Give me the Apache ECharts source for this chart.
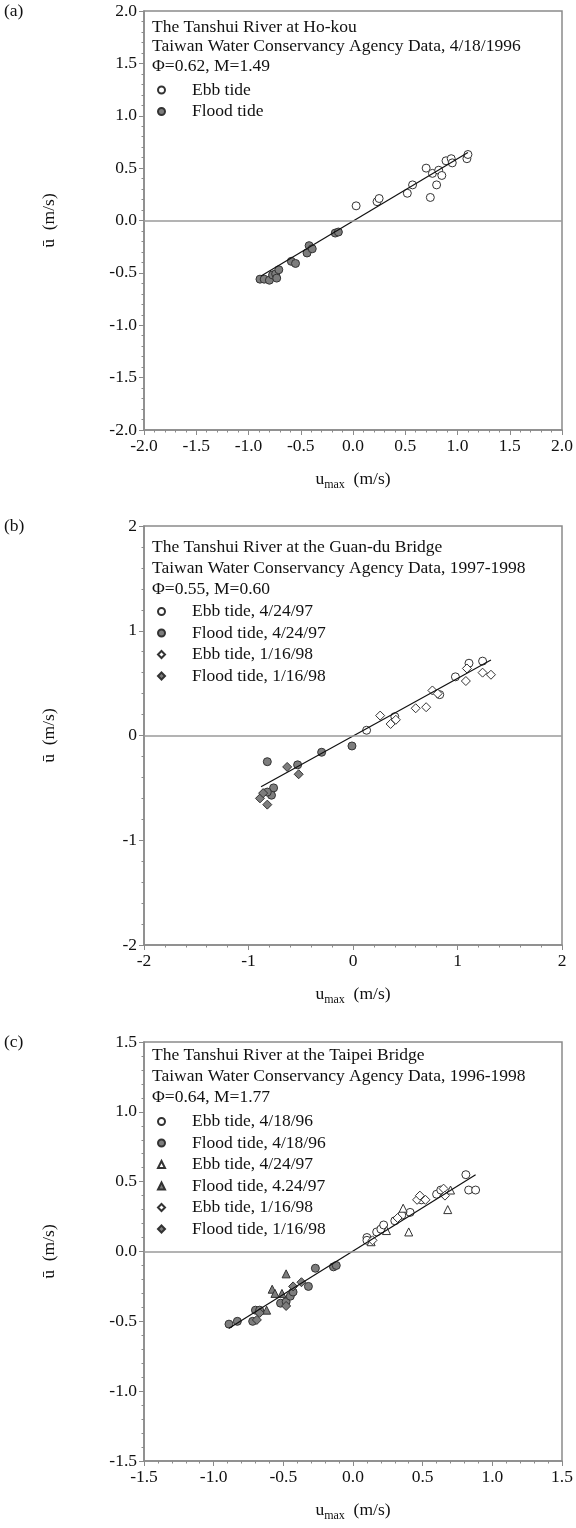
<!DOCTYPE html>
<html>
<head>
<meta charset="utf-8">
<title>Tanshui River - mean vs max velocity</title>
<script src="https://cdn.jsdelivr.net/npm/echarts@6/dist/echarts.min.js"></script>
<style>
  html, body { margin: 0; padding: 0; background: #fff; }
  #main { width: 576px; height: 1528px; }
</style>
</head>
<body>
<div id="main"></div>
<script>
// (a) Ho-kou, 4/18/1996  -- [u_max, u_bar]
var aEbb = [[0.03,0.14],[0.23,0.18],[0.25,0.21],[0.52,0.26],[0.57,0.34],[0.70,0.50],[0.74,0.22],[0.76,0.45],
  [0.80,0.34],[0.82,0.48],[0.85,0.43],[0.89,0.57],[0.94,0.59],[0.95,0.55],[1.09,0.59],[1.10,0.63]];
var aFlood = [[-0.89,-0.56],[-0.85,-0.56],[-0.80,-0.57],[-0.77,-0.52],[-0.74,-0.51],[-0.73,-0.55],[-0.71,-0.47],
  [-0.59,-0.39],[-0.55,-0.41],[-0.44,-0.31],[-0.42,-0.24],[-0.39,-0.27],[-0.17,-0.12],[-0.14,-0.11]];
var aFit = [[-0.88,-0.53],[1.10,0.65]];

// (b) Guan-du Bridge, 1997-1998
var bEbb97 = [[0.13,0.05],[0.40,0.18],[0.83,0.39],[0.98,0.56],[1.11,0.69],[1.24,0.71]];
var bFlood97 = [[-0.82,-0.25],[-0.53,-0.28],[-0.30,-0.16],[-0.01,-0.10],[-0.76,-0.50],[-0.78,-0.57],[-0.82,-0.54]];
var bEbb98 = [[0.26,0.19],[0.36,0.11],[0.41,0.15],[0.60,0.26],[0.70,0.27],[0.76,0.43],[0.81,0.40],
  [1.08,0.52],[1.09,0.64],[1.24,0.60],[1.32,0.58]];
var bFlood98 = [[-0.63,-0.30],[-0.52,-0.37],[-0.89,-0.60],[-0.82,-0.66],[-0.86,-0.55]];
var bFit = [[-0.88,-0.49],[1.32,0.72]];

// (c) Taipei Bridge, 1996-1998
var cEbb96 = [[0.10,0.10],[0.10,0.08],[0.17,0.14],[0.20,0.16],[0.22,0.19],[0.30,0.22],[0.35,0.26],[0.41,0.28],
  [0.49,0.37],[0.60,0.41],[0.63,0.44],[0.81,0.55],[0.83,0.44],[0.88,0.44]];
var cFlood96 = [[-0.89,-0.52],[-0.83,-0.50],[-0.72,-0.50],[-0.70,-0.42],[-0.67,-0.42],[-0.52,-0.37],[-0.48,-0.36],
  [-0.45,-0.32],[-0.43,-0.29],[-0.32,-0.25],[-0.27,-0.12],[-0.14,-0.11],[-0.12,-0.10]];
var cEbb97 = [[0.13,0.07],[0.24,0.15],[0.36,0.31],[0.40,0.14],[0.68,0.30],[0.70,0.44]];
var cFlood97 = [[-0.48,-0.16],[-0.58,-0.27],[-0.56,-0.30],[-0.51,-0.30],[-0.62,-0.42]];
var cEbb98 = [[0.14,0.08],[0.32,0.24],[0.46,0.37],[0.48,0.40],[0.52,0.37],[0.65,0.45],[0.66,0.40]];
var cFlood98 = [[-0.69,-0.49],[-0.67,-0.44],[-0.43,-0.25],[-0.37,-0.22],[-0.48,-0.39]];
var cFit = [[-0.89,-0.55],[0.88,0.55]];

var font = '"Liberation Serif", "DejaVu Serif", serif';
var fs = 17.5;
var ink = '#111';
var axisGray = '#8a8a8a';
var floodGray = '#7d7d7d';

var grids = [], xAxes = [], yAxes = [], series = [], titles = [], legends = [];

function addPanel(i, p) {
  grids.push({ left: 144, top: p.top, width: 418, height: 419, show: true,
    borderColor: axisGray, borderWidth: 1.5, backgroundColor: '#fff', outerBoundsMode: 'none' });

  var fmt = function (v) { return v.toFixed(p.dec); };
  var common = {
    gridIndex: i, type: 'value', min: p.min, max: p.max, interval: p.step,
    axisLine: { show: true, onZero: false, lineStyle: { color: axisGray, width: 1.5 } },
    axisTick: { show: true, length: 5, lineStyle: { color: axisGray } },
    minorTick: { show: true, splitNumber: p.minor, length: 2.5, lineStyle: { color: axisGray } },
    splitLine: { show: false },
    axisLabel: { formatter: fmt, fontFamily: font, fontSize: fs, color: ink, margin: 7 },
    nameLocation: 'middle'
  };
  xAxes.push(Object.assign({}, common, {
    name: '{u|u}{s|max}{u|  (m/s)}', nameGap: 37,
    nameTextStyle: { rich: {
      u: { fontFamily: font, fontSize: fs, color: ink, lineHeight: 24 },
      s: { fontFamily: font, fontSize: 12, color: ink, lineHeight: 11, verticalAlign: 'bottom' }
    } }
  }));
  yAxes.push(Object.assign({}, common, {
    name: 'ū  (m/s)', nameGap: 86,
    nameTextStyle: { fontFamily: font, fontSize: fs, color: ink }
  }));

  titles.push({ text: p.tag, left: 4, top: p.top - 9, padding: 0,
    textStyle: { fontFamily: font, fontSize: fs, fontWeight: 'normal', color: ink } });
  titles.push({ text: p.heading.join('\n'), left: 152, top: p.headTop, padding: 0,
    textStyle: { fontFamily: font, fontSize: fs, fontWeight: 'normal', color: ink, lineHeight: p.lh } });

  var names = [];
  p.groups.forEach(function (g) {
    names.push(g.name);
    series.push({
      type: 'scatter', name: g.name, xAxisIndex: i, yAxisIndex: i, data: g.data,
      symbol: g.symbol, symbolSize: g.size,
      itemStyle: { color: g.fill, borderColor: '#333', borderWidth: 1, opacity: 1 },
      z: 3, silent: true
    });
  });
  legends.push({
    orient: 'vertical', left: 157, top: p.legTop, padding: 0, itemGap: 1.5,
    itemWidth: 7, itemHeight: 7, selectedMode: false, data: names,
    textStyle: { fontFamily: font, fontSize: fs, color: ink, lineHeight: 20, padding: [0, 0, 0, 22] }
  });

  // regression line plus the zero line
  series.push({
    type: 'line', xAxisIndex: i, yAxisIndex: i, data: p.fit, showSymbol: false, silent: true,
    lineStyle: { color: ink, width: 1.2 }, z: 4,
    markLine: { silent: true, symbol: 'none', label: { show: false },
      lineStyle: { color: '#9a9a9a', width: 1.5, type: 'solid' }, data: [{ yAxis: 0 }] }
  });
}

var open = '#fff';

addPanel(0, {
  tag: '(a)', top: 11, min: -2, max: 2, step: 0.5, minor: 5, dec: 1,
  headTop: 17.5, legTop: 80, lh: 19.5,
  heading: ['The Tanshui River at Ho-kou', 'Taiwan Water Conservancy Agency Data, 4/18/1996', 'Φ=0.62, M=1.49'],
  groups: [
    { name: 'Ebb tide', data: aEbb, symbol: 'circle', size: 8, fill: open },
    { name: 'Flood tide', data: aFlood, symbol: 'circle', size: 8, fill: floodGray }
  ],
  fit: aFit
});

addPanel(1, {
  tag: '(b)', top: 526, min: -2, max: 2, step: 1, minor: 5, dec: 0,
  headTop: 537.5, legTop: 601.5, lh: 20.7,
  heading: ['The Tanshui River at the Guan-du Bridge', 'Taiwan Water Conservancy Agency Data, 1997-1998', 'Φ=0.55, M=0.60'],
  groups: [
    { name: 'Ebb tide, 4/24/97', data: bEbb97, symbol: 'circle', size: 8, fill: open },
    { name: 'Flood tide, 4/24/97', data: bFlood97, symbol: 'circle', size: 8, fill: floodGray },
    { name: 'Ebb tide, 1/16/98', data: bEbb98, symbol: 'diamond', size: 9, fill: open },
    { name: 'Flood tide, 1/16/98', data: bFlood98, symbol: 'diamond', size: 9, fill: floodGray }
  ],
  fit: bFit
});

// names get a zero-width space so the legend does not pick panel (b) series
addPanel(2, {
  tag: '(c)', top: 1042, min: -1.5, max: 1.5, step: 0.5, minor: 5, dec: 1,
  headTop: 1044.5, legTop: 1111.5, lh: 21,
  heading: ['The Tanshui River at the Taipei Bridge', 'Taiwan Water Conservancy Agency Data, 1996-1998', 'Φ=0.64, M=1.77'],
  groups: [
    { name: 'Ebb tide, 4/18/96\u200b', data: cEbb96, symbol: 'circle', size: 8, fill: open },
    { name: 'Flood tide, 4/18/96\u200b', data: cFlood96, symbol: 'circle', size: 8, fill: floodGray },
    { name: 'Ebb tide, 4/24/97\u200b', data: cEbb97, symbol: 'triangle', size: 8, fill: open },
    { name: 'Flood tide, 4.24/97\u200b', data: cFlood97, symbol: 'triangle', size: 8, fill: floodGray },
    { name: 'Ebb tide, 1/16/98\u200b', data: cEbb98, symbol: 'diamond', size: 9, fill: open },
    { name: 'Flood tide, 1/16/98\u200b', data: cFlood98, symbol: 'diamond', size: 9, fill: floodGray }
  ],
  fit: cFit
});

var myChart = echarts.init(document.getElementById('main'), null, { renderer: 'canvas' });
myChart.setOption({
  animation: false,
  backgroundColor: '#fff',
  title: titles,
  legend: legends,
  grid: grids,
  xAxis: xAxes,
  yAxis: yAxes,
  series: series
});
</script>
</body>
</html>
